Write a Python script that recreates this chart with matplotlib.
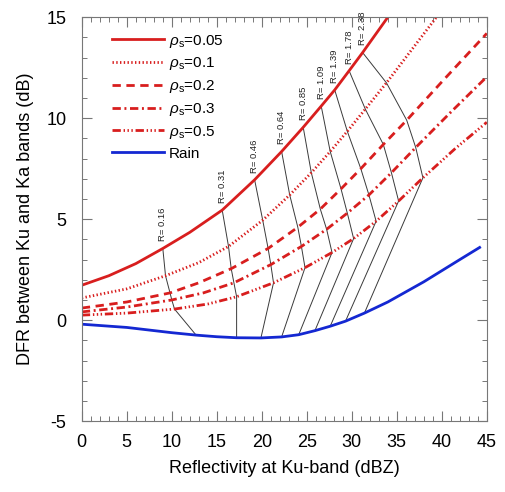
import matplotlib
matplotlib.use("Agg")
import matplotlib.pyplot as plt
from matplotlib.ticker import MultipleLocator

plt.rcParams['font.family'] = ['Liberation Sans', 'DejaVu Sans']
plt.rcParams['mathtext.fontset'] = 'custom'
plt.rcParams['mathtext.it'] = 'Liberation Sans:italic'
plt.rcParams['mathtext.rm'] = 'Liberation Sans'
plt.rcParams['axes.unicode_minus'] = False

# Rain-rate labels of the iso-R lines
r_values = ["0.16", "0.31", "0.46", "0.64", "0.85", "1.09", "1.39", "1.78", "2.38"]

# Points of each curve at the iso-R lines (Ku reflectivity dBZ, DFR dB)
snow005_x = [9.0, 15.6, 19.2, 22.2, 24.6, 26.6, 28.1, 29.7, 31.2]
snow005_y = [3.55, 5.45, 6.95, 8.35, 9.55, 10.6, 11.4, 12.35, 13.25]
snow01_x = [9.3, 16.3, 20.1, 23.1, 25.5, 27.6, 29.5, 31.5, 33.85]
snow01_y = [2.2, 3.65, 4.95, 6.2, 7.3, 8.35, 9.35, 10.45, 11.75]
snow02_x = [9.8, 16.6, 20.7, 24.0, 26.5, 28.8, 31.0, 33.5, 36.1]
snow02_y = [1.35, 2.55, 3.55, 4.6, 5.5, 6.5, 7.5, 8.7, 9.9]
snow03_x = [10.0, 16.9, 21.0, 24.4, 27.2, 29.5, 31.9, 34.4, 37.1]
snow03_y = [1.0, 1.85, 2.75, 3.65, 4.5, 5.3, 6.2, 7.3, 8.55]
snow05_x = [10.3, 17.2, 21.3, 24.8, 27.8, 30.2, 32.7, 35.2, 37.9]
snow05_y = [0.55, 1.16, 1.85, 2.6, 3.35, 4.04, 4.9, 5.9, 7.05]
rain_x = [12.7, 17.2, 19.9, 22.2, 24.1, 25.9, 27.6, 29.3, 31.4]
rain_y = [-0.74, -0.87, -0.88, -0.83, -0.72, -0.52, -0.3, -0.05, 0.35]

# Additional points of the curves outside the iso-R points
snow005_ext_x = [0, 3, 6, 12, 34.0]
snow005_ext_y = [1.73, 2.2, 2.8, 4.35, 15.0]
snow01_ext_x = [0, 5, 13, 36.5, 39.4]
snow01_ext_y = [1.1, 1.55, 2.85, 13.3, 15.0]
snow02_ext_x = [0, 5, 13, 40, 45]
snow02_ext_y = [0.6, 0.9, 1.85, 11.8, 14.2]
snow03_ext_x = [0, 5, 13.5, 41, 45]
snow03_ext_y = [0.41, 0.65, 1.35, 10.3, 12.05]
snow05_ext_x = [0, 5, 14, 41.5, 45]
snow05_ext_y = [0.25, 0.35, 0.8, 8.5, 9.8]
rain_ext_x = [0, 5, 10, 15, 34, 36, 38, 40, 42, 44.2]
rain_ext_y = [-0.2, -0.36, -0.62, -0.82, 0.9, 1.4, 1.9, 2.45, 3.0, 3.6]

labels = [r'$\rho_{\rm s}$=0.05', r'$\rho_{\rm s}$=0.1', r'$\rho_{\rm s}$=0.2',
          r'$\rho_{\rm s}$=0.3', r'$\rho_{\rm s}$=0.5', 'Rain']

RED = '#d81e1e'
BLUE = '#1428d2'

def merged(x1, y1, x2, y2):
    pts = sorted(zip(list(x1) + list(x2), list(y1) + list(y2)))
    return [p[0] for p in pts], [p[1] for p in pts]

fig = plt.figure(figsize=(5.05, 4.92), dpi=100)
ax = fig.add_axes([0.162, 0.144, 0.802, 0.821])

curves = [
    (snow005_x, snow005_y, snow005_ext_x, snow005_ext_y, RED, '-'),
    (snow01_x, snow01_y, snow01_ext_x, snow01_ext_y, RED, (0, (0.5, 0.85))),
    (snow02_x, snow02_y, snow02_ext_x, snow02_ext_y, RED, (0, (3.0, 2.0))),
    (snow03_x, snow03_y, snow03_ext_x, snow03_ext_y, RED, (0, (3.0, 1.3, 0.7, 1.3))),
    (snow05_x, snow05_y, snow05_ext_x, snow05_ext_y, RED, (0, (3.0, 1.0, 0.5, 0.9, 0.5, 0.9, 0.5, 1.0))),
    (rain_x, rain_y, rain_ext_x, rain_ext_y, BLUE, '-'),
]

# iso-R lines
for i in range(len(r_values)):
    xs = [c[0][i] for c in curves]
    ys = [c[1][i] for c in curves]
    ax.plot(xs, ys, color='#3a3a3a', lw=0.7, zorder=1)
    ax.text(snow005_x[i], snow005_y[i] + 0.35, 'R= ' + r_values[i], rotation=90,
            ha='center', va='bottom', fontsize=6.8, color='#222222')

for (x1, y1, x2, y2, col, ls), lab in zip(curves, labels):
    xx, yy = merged(x1, y1, x2, y2)
    ax.plot(xx, yy, color=col, ls=ls, lw=2.0, label=lab, zorder=2)

ax.set_xlim(0, 45)
ax.set_ylim(-5, 15)
ax.xaxis.set_major_locator(MultipleLocator(5))
ax.xaxis.set_minor_locator(MultipleLocator(1))
ax.yaxis.set_major_locator(MultipleLocator(5))
ax.yaxis.set_minor_locator(MultipleLocator(1))
ax.tick_params(which='both', direction='in', top=True, right=True, color='#777777')
ax.tick_params(which='major', length=7, width=0.8, labelsize=13)
ax.tick_params(which='minor', length=3.5, width=0.7)
ax.tick_params(axis='x', which='major', pad=9)
ax.tick_params(axis='y', which='major', pad=11)
for s in ax.spines.values():
    s.set_color('#777777')
    s.set_linewidth(0.8)

ax.set_xlabel('Reflectivity at Ku-band (dBZ)', fontsize=13, labelpad=7)
ax.set_ylabel('DFR between Ku and Ka bands (dB)', fontsize=13, labelpad=9)

leg = ax.legend(loc='upper left', bbox_to_anchor=(0.074, 0.962), frameon=False,
                borderaxespad=0, borderpad=0,
                fontsize=11, handlelength=3.4, handletextpad=0.35, labelspacing=0.38)

fig.savefig('out.png', dpi=100)
